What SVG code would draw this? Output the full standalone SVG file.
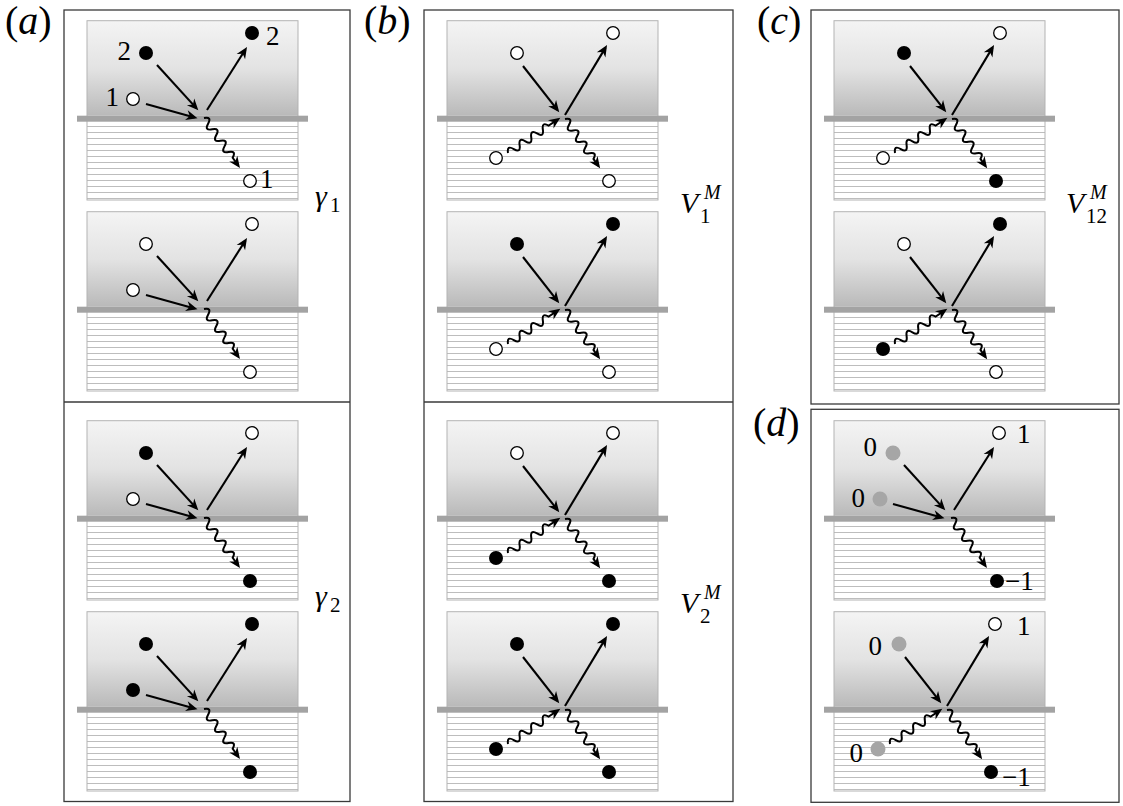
<svg xmlns="http://www.w3.org/2000/svg" xmlns:xlink="http://www.w3.org/1999/xlink" width="1123" height="806" viewBox="0 0 1123 806">
<style>
.box{fill:none;stroke:#3a3a3a;stroke-width:1.3}
.a{fill:none;stroke:#000;stroke-width:2.1;marker-end:url(#ah)}
.w{fill:none;stroke:#000;stroke-width:2;marker-end:url(#ah)}
.f{fill:#000}
.o{fill:#fff;stroke:#000;stroke-width:1.3}
.g{fill:#a6a6a6}
.t{font-family:"Liberation Serif","DejaVu Serif",serif}
.n{font-size:27px}
.lab{font-size:40px}
.m{font-size:30px;font-style:italic}
.s{font-size:21px;font-style:normal}
.sm{font-size:20px;font-style:italic}
</style>
<defs>
<linearGradient id="gr" x1="0" y1="0" x2="0" y2="1">
<stop offset="0" stop-color="#f4f4f4"/>
<stop offset="0.5" stop-color="#e3e3e3"/>
<stop offset="1" stop-color="#b9b9b9"/>
</linearGradient>
<marker id="ah" markerUnits="userSpaceOnUse" markerWidth="16" markerHeight="14" viewBox="-11 -7 16 14" refX="0" refY="0" orient="auto" overflow="visible">
<path d="M3,0 L-8.5,-5 L-5,0 L-8.5,5 Z" fill="#000"/>
</marker>
<g id="bg">
<rect x="-116" y="-96.3" width="211" height="95" fill="url(#gr)"/>
<path d="M-116,9.5h211M-116,15.5h211M-116,21.5h211M-116,27.5h211M-116,33.5h211M-116,39.5h211M-116,45.5h211M-116,51.5h211M-116,57.5h211M-116,63.5h211M-116,69.5h211M-116,75.5h211M-116,81.5h211" stroke="#bdbdbd" stroke-width="1" fill="none"/>
<rect x="-116" y="-96.3" width="211" height="179.3" fill="none" stroke="#b3b3b3" stroke-width="1"/>
<rect x="-126" y="-1.3" width="231" height="6" fill="#a3a3a3"/>
</g>
<g id="connA">
<path class="a" d="M-46,-52 L-6.7,-8.9"/>
<path class="a" d="M-57,-13 L-8.4,0.4"/>
<path class="a" d="M4,-7 L42.4,-67.5"/>
<path class="w" transform="translate(1,1) rotate(54.2)" d="M0,0 q3.5,-7.5 7,0 t7,0 t7,0 t7,0 t7,0 t7,0 t7,0 h9.5"/>
</g>
<g id="connB">
<path class="a" d="M-40,-51 L-5.6,-7.2"/>
<path class="w" transform="translate(-55,36) rotate(-33.9)" d="M0,0 q3.5,-7.5 7,0 t7,0 t7,0 t7,0 t7,0 t7,0 t7,0 h11"/>
<path class="a" d="M2,-2 L42.5,-69.4"/>
<path class="w" transform="translate(2,2) rotate(54.5)" d="M0,0 q3.5,-7.5 7,0 t7,0 t7,0 t7,0 t7,0 t7,0 t7,0 h8.5"/>
</g>
</defs>

<g id="frames">
<rect class="box" x="64" y="10" width="286" height="791.5"/>
<line class="box" x1="64" y1="402" x2="350" y2="402"/>
<rect class="box" x="424" y="10" width="309" height="791.5"/>
<line class="box" x1="424" y1="402" x2="733" y2="402"/>
<rect class="box" x="811" y="10" width="308" height="394"/>
<rect class="box" x="811" y="409.3" width="308" height="393"/>
</g>

<g id="panel-labels" class="t">
<text class="lab" x="5" y="34">(<tspan font-style="italic">a</tspan>)</text>
<text class="lab" x="364" y="34">(<tspan font-style="italic">b</tspan>)</text>
<text class="lab" x="757" y="34">(<tspan font-style="italic">c</tspan>)</text>
<text class="lab" x="753" y="436">(<tspan font-style="italic">d</tspan>)</text>
</g>

<g id="math-labels" class="t">
<text class="m" x="315" y="206">γ<tspan class="s" x="330" y="212">1</tspan></text>
<text class="m" x="315" y="606">γ<tspan class="s" x="330" y="612">2</tspan></text>
<text class="m" x="680" y="213">V<tspan class="s" x="700" y="223">1</tspan><tspan class="sm" x="704" y="199">M</tspan></text>
<text class="m" x="680" y="613">V<tspan class="s" x="700" y="623">2</tspan><tspan class="sm" x="704" y="599">M</tspan></text>
<text class="m" x="1066" y="213">V<tspan class="s" x="1086" y="223">12</tspan><tspan class="sm" x="1090" y="199">M</tspan></text>
</g>

<g id="subpanels" class="t">
<!-- (a) -->
<g id="a1" transform="translate(203,117)">
<use xlink:href="#bg"/>
<use xlink:href="#connA"/>
<circle class="f" cx="-57" cy="-64" r="7"/><circle class="o" cx="-70" cy="-18" r="6.3"/>
<circle class="f" cx="49" cy="-84" r="7"/><circle class="o" cx="47" cy="64" r="6.3"/>
<text class="n" x="-72" y="-57" text-anchor="end">2</text>
<text class="n" x="-84" y="-11" text-anchor="end">1</text>
<text class="n" x="63" y="-72">2</text>
<text class="n" x="57" y="71">1</text>
</g>
<g id="a2" transform="translate(203,308)">
<use xlink:href="#bg"/>
<use xlink:href="#connA"/>
<circle class="o" cx="-57" cy="-64" r="6.3"/><circle class="o" cx="-70" cy="-18" r="6.3"/>
<circle class="o" cx="49" cy="-84" r="6.3"/><circle class="o" cx="47" cy="64" r="6.3"/>
</g>
<g id="a3" transform="translate(203,517)">
<use xlink:href="#bg"/>
<use xlink:href="#connA"/>
<circle class="f" cx="-57" cy="-64" r="7"/><circle class="o" cx="-70" cy="-18" r="6.3"/>
<circle class="o" cx="49" cy="-84" r="6.3"/><circle class="f" cx="47" cy="64" r="7"/>
</g>
<g id="a4" transform="translate(203,708)">
<use xlink:href="#bg"/>
<use xlink:href="#connA"/>
<circle class="f" cx="-57" cy="-64" r="7"/><circle class="f" cx="-70" cy="-18" r="7"/>
<circle class="f" cx="49" cy="-84" r="7"/><circle class="f" cx="47" cy="64" r="7"/>
</g>

<!-- (b) -->
<g id="b1" transform="translate(563,117)">
<use xlink:href="#bg"/>
<use xlink:href="#connB"/>
<circle class="o" cx="-46" cy="-64" r="6.3"/><circle class="o" cx="-67" cy="41" r="6.3"/>
<circle class="o" cx="50" cy="-84" r="6.3"/><circle class="o" cx="46" cy="64" r="6.3"/>
</g>
<g id="b2" transform="translate(563,308)">
<use xlink:href="#bg"/>
<use xlink:href="#connB"/>
<circle class="f" cx="-46" cy="-64" r="7"/><circle class="o" cx="-67" cy="41" r="6.3"/>
<circle class="f" cx="50" cy="-84" r="7"/><circle class="o" cx="46" cy="64" r="6.3"/>
</g>
<g id="b3" transform="translate(563,517)">
<use xlink:href="#bg"/>
<use xlink:href="#connB"/>
<circle class="o" cx="-46" cy="-64" r="6.3"/><circle class="f" cx="-67" cy="41" r="7"/>
<circle class="o" cx="50" cy="-84" r="6.3"/><circle class="f" cx="46" cy="64" r="7"/>
</g>
<g id="b4" transform="translate(563,708)">
<use xlink:href="#bg"/>
<use xlink:href="#connB"/>
<circle class="f" cx="-46" cy="-64" r="7"/><circle class="f" cx="-67" cy="41" r="7"/>
<circle class="f" cx="50" cy="-84" r="7"/><circle class="f" cx="46" cy="64" r="7"/>
</g>

<!-- (c) -->
<g id="c1" transform="translate(950,117)">
<use xlink:href="#bg"/>
<use xlink:href="#connB"/>
<circle class="f" cx="-46" cy="-64" r="7"/><circle class="o" cx="-67" cy="41" r="6.3"/>
<circle class="o" cx="50" cy="-84" r="6.3"/><circle class="f" cx="46" cy="64" r="7"/>
</g>
<g id="c2" transform="translate(950,308)">
<use xlink:href="#bg"/>
<use xlink:href="#connB"/>
<circle class="o" cx="-46" cy="-64" r="6.3"/><circle class="f" cx="-67" cy="41" r="7"/>
<circle class="f" cx="50" cy="-84" r="7"/><circle class="o" cx="46" cy="64" r="6.3"/>
</g>

<!-- (d) -->
<g id="d1" transform="translate(950,517)">
<use xlink:href="#bg"/>
<use xlink:href="#connA"/>
<circle class="g" cx="-57" cy="-64" r="7.5"/><circle class="g" cx="-70" cy="-18" r="7.5"/>
<circle class="o" cx="49" cy="-84" r="6.3"/><circle class="f" cx="47" cy="64" r="7"/>
<text class="n" x="-73" y="-61" text-anchor="end">0</text>
<text class="n" x="-85" y="-10" text-anchor="end">0</text>
<text class="n" x="67" y="-74">1</text>
<text class="n" x="55" y="73">−1</text>
</g>
<g id="d2">
<use xlink:href="#bg" transform="translate(950,708)"/>
<g transform="translate(945,708)">
<use xlink:href="#connB"/>
<circle class="g" cx="-46" cy="-64" r="7.5"/><circle class="g" cx="-67" cy="41" r="7.5"/>
<circle class="o" cx="50" cy="-84" r="6.3"/><circle class="f" cx="46" cy="64" r="7"/>
<text class="n" x="-63" y="-53" text-anchor="end">0</text>
<text class="n" x="-82" y="54" text-anchor="end">0</text>
<text class="n" x="72" y="-73">1</text>
<text class="n" x="57" y="78">−1</text>
</g>
</g>
</g>
</svg>
